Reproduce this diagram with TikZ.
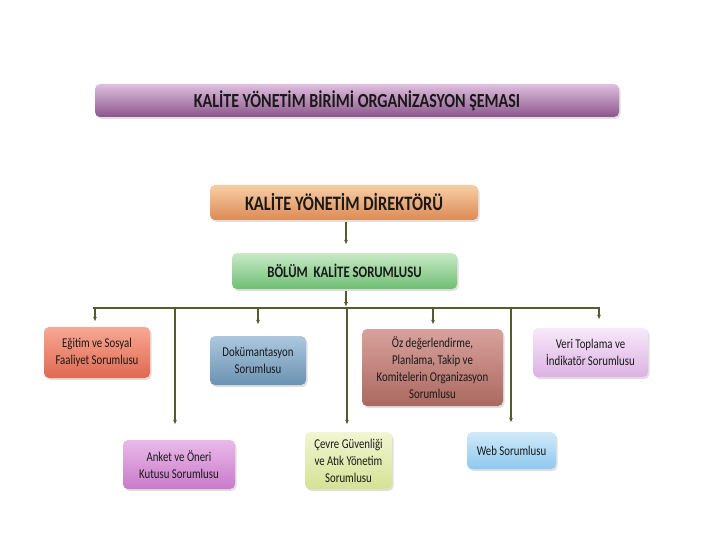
\documentclass[tikz,border=0pt]{standalone}
\usepackage{fontspec}
\setmainfont[FakeStretch=0.8]{Carlito}
\usetikzlibrary{arrows.meta,shadows}
\definecolor{linec}{RGB}{82,92,48}
\tikzset{
  box/.style={rounded corners=5pt, inner sep=1pt, align=center, text=black!90,
    drop shadow={shadow xshift=1.5pt, shadow yshift=-2pt, opacity=0.25}},
  arr/.style={draw=linec, line width=1.1pt, -{Latex[length=5pt,width=4pt]}},
  bar/.style={draw=linec, line width=2.2pt},
}
\begin{document}
\begin{tikzpicture}[x=1pt,y=-1pt]
\useasboundingbox (0,0) rectangle (720,540);
% top boxes
\node[box, minimum width=524pt, minimum height=33pt,
  top color=violet!25!white, middle color=violet!45!white!90!black, bottom color=violet!55!white!75!black,
  font=\bfseries\fontsize{20}{23}\selectfont] (title) at (357,100.5) {KALİTE YÖNETİM BİRİMİ ORGANİZASYON ŞEMASI};
\node[box, minimum width=268pt, minimum height=35pt,
  top color={rgb,255:red,248;green,206;blue,166}, middle color={rgb,255:red,236;green,164;blue,112}, bottom color={rgb,255:red,220;green,138;blue,84},
  font=\bfseries\fontsize{20.5}{23}\selectfont] (dir) at (344,202.5) {KALİTE YÖNETİM DİREKTÖRÜ};
\node[box, minimum width=225pt, minimum height=36pt,
  top color={rgb,255:red,200;green,234;blue,198}, middle color={rgb,255:red,146;green,208;blue,148}, bottom color={rgb,255:red,112;green,190;blue,116},
  font=\bfseries\fontsize{16}{19}\selectfont] (bol) at (344.5,271) {BÖLÜM\ \ KALİTE SORUMLUSU};
% lower boxes
\tikzset{small/.style={box, font=\fontsize{13.5}{17}\selectfont}}
\node[small, minimum width=106pt, minimum height=51pt,
  top color={rgb,255:red,248;green,168;blue,148}, middle color={rgb,255:red,238;green,128;blue,104}, bottom color={rgb,255:red,224;green,104;blue,80}] (egt) at (97,352.5) {Eğitim ve Sosyal\\Faaliyet Sorumlusu};
\node[small, minimum width=96pt, minimum height=49pt,
  top color={rgb,255:red,172;green,200;blue,222}, middle color={rgb,255:red,128;green,166;blue,196}, bottom color={rgb,255:red,106;green,146;blue,178}] (dok) at (258,360.5) {Dokümantasyon\\Sorumlusu};
\node[small, minimum width=141pt, minimum height=77pt,
  top color={rgb,255:red,216;green,162;blue,156}, middle color={rgb,255:red,192;green,128;blue,120}, bottom color={rgb,255:red,170;green,104;blue,96}] (oz) at (432.5,367.5) {Öz değerlendirme,\\Planlama, Takip ve\\Komitelerin Organizasyon\\Sorumlusu};
\node[small, minimum width=115pt, minimum height=49pt,
  top color={rgb,255:red,248;green,232;blue,250}, middle color={rgb,255:red,236;green,206;blue,240}, bottom color={rgb,255:red,220;green,178;blue,228}] (veri) at (590.5,352.5) {Veri Toplama ve\\İndikatör Sorumlusu};
\node[small, minimum width=112pt, minimum height=49pt,
  top color={rgb,255:red,234;green,186;blue,234}, middle color={rgb,255:red,216;green,148;blue,216}, bottom color={rgb,255:red,200;green,122;blue,200}] (ank) at (179,464.5) {Anket ve Öneri\\Kutusu Sorumlusu};
\node[small, minimum width=87pt, minimum height=57pt,
  top color={rgb,255:red,242;green,246;blue,210}, middle color={rgb,255:red,228;green,238;blue,176}, bottom color={rgb,255:red,212;green,226;blue,148}] (cev) at (348.5,460.5) {Çevre Güvenliği\\ve Atık Yönetim\\Sorumlusu};
\node[small, minimum width=89pt, minimum height=37pt,
  top color={rgb,255:red,208;green,234;blue,250}, middle color={rgb,255:red,166;green,214;blue,242}, bottom color={rgb,255:red,142;green,200;blue,238}] (web) at (511.5,450.5) {Web Sorumlusu};
% connectors
\coordinate (hl) at (93,308);
\coordinate (hr) at (600,308);
\coordinate (hm) at (346,308);
\coordinate (c1) at (95,308);
\coordinate (c2) at (175,308);
\coordinate (c3) at (258,308);
\coordinate (c4) at (347,308);
\coordinate (c5) at (433,308);
\coordinate (c6) at (511,308);
\coordinate (c7) at (599,308);
\draw[arr, shorten <=2pt, shorten >=8pt] (dir.south -| hm) -- (bol.north -| hm);
\draw[bar] (hl) -- (hr);
\draw[arr, shorten <=2pt, shorten >=1pt] (bol.south -| hm) -- (hm);
\draw[arr, shorten >=5pt] (c1) -- (c1 |- egt.north);
\draw[arr, shorten >=15pt] (c2) -- (c2 |- ank.north);
\draw[arr, shorten >=11pt] (c3) -- (c3 |- dok.north);
\draw[arr, shorten >=7pt] (c4) -- (c4 |- cev.north);
\draw[arr, shorten >=4pt] (c5) -- (c5 |- oz.north);
\draw[arr, shorten >=9pt] (c6) -- (c6 |- web.north);
\draw[arr, shorten >=8pt] (c7) -- (c7 |- veri.north);
\end{tikzpicture}
\end{document}
